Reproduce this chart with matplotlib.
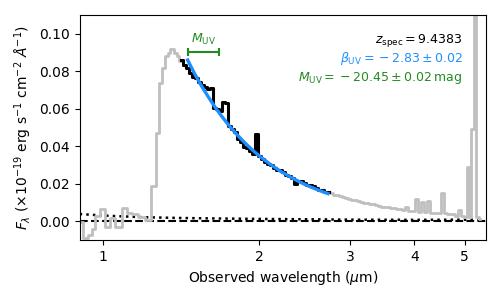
import numpy as np
import matplotlib
matplotlib.use("Agg")
import matplotlib.pyplot as plt
from matplotlib.ticker import NullLocator, FixedLocator, FixedFormatter

# observed-frame prism spectrum (micron, 1e-19 erg/s/cm2/A)
wave = [0.9045, 0.9250, 0.9437, 0.9563, 0.9736, 0.9955, 1.0203, 1.0410, 1.0692,
        1.1007, 1.1205, 1.1509, 1.1874, 1.2224, 1.2555, 1.2753, 1.2925, 1.3099,
        1.3246, 1.3393, 1.3576, 1.3789, 1.3944, 1.4050,
        1.4164, 1.4355, 1.4548, 1.4744, 1.4943, 1.5144, 1.5348, 1.5555, 1.5765,
        1.5977, 1.6192, 1.6410, 1.6631, 1.6855, 1.7082, 1.7312, 1.7546, 1.7782,
        1.8022, 1.8264, 1.8510, 1.8760, 1.9012, 1.9268, 1.9528, 1.9791, 2.0057,
        2.0328, 2.0602, 2.0879, 2.1160, 2.1445, 2.1734, 2.2027, 2.2324, 2.2624,
        2.2929, 2.3238, 2.3551, 2.3868, 2.4190, 2.4516, 2.4846, 2.5181, 2.5520,
        2.5864, 2.6212, 2.6565, 2.6923, 2.7286,
        2.7654, 2.8026, 2.8404, 2.8786, 2.9174, 2.9567, 2.9965, 3.0369, 3.0778,
        3.1192, 3.1612, 3.2038, 3.2469, 3.2907, 3.3350, 3.3799, 3.4254, 3.4716,
        3.5183, 3.5657, 3.6137, 3.6624, 3.7117, 3.7617, 3.8124, 3.8637, 3.9158,
        3.9882, 4.0419, 4.0964, 4.1424, 4.1982, 4.2642, 4.3218, 4.3996, 4.4788,
        4.5291, 4.5798, 4.6623, 4.7463, 4.8318, 4.8969, 4.9629, 5.0298, 5.0749,
        5.1204, 5.1732, 5.2359, 5.2947, 5.3540]
flux = [-0.0005, -0.0090, -0.0075, -0.0040, 0.0030, 0.0064, -0.0030, 0.0016, -0.0030,
        0.0070, 0.0043, 0.0037, 0.0020, 0.0005, 0.0190, 0.0470, 0.0740, 0.0820,
        0.0880, 0.0900, 0.0920, 0.0900, 0.0880, 0.0855,
        0.0860, 0.0835, 0.0815, 0.0790, 0.0770, 0.0765, 0.0745, 0.0725, 0.0715,
        0.0705, 0.0710, 0.0605, 0.0600, 0.0590, 0.0635, 0.0630, 0.0510, 0.0490,
        0.0475, 0.0440, 0.0425, 0.0395, 0.0390, 0.0375, 0.0360, 0.0465, 0.0350,
        0.0330, 0.0315, 0.0305, 0.0300, 0.0285, 0.0275, 0.0272, 0.0262, 0.0245,
        0.0240, 0.0228, 0.0200, 0.0215, 0.0212, 0.0205, 0.0195, 0.0192, 0.0185,
        0.0175, 0.0168, 0.0165, 0.0158, 0.0155,
        0.0152, 0.0142, 0.0140, 0.0132, 0.0130, 0.0124, 0.0120, 0.0112, 0.0113,
        0.0105, 0.0104, 0.0098, 0.0096, 0.0092, 0.0090, 0.0084, 0.0083, 0.0078,
        0.0076, 0.0073, 0.0071, 0.0068, 0.0067, 0.0063, 0.0061, 0.0075, 0.0056,
        0.0052, 0.0120, 0.0050, 0.0100, 0.0048, 0.0110, 0.0046, 0.0046, 0.0043,
        0.0150, 0.0042, 0.0040, 0.0038, 0.0030, 0.0057, 0.0025, 0.0022, 0.0290,
        0.0020, 0.0490, 0.3000, 0.0020, 0.0010]

# 1-sigma uncertainty (dotted)
err_wave = [0.90, 1.00, 1.10, 1.20, 1.40, 1.70, 2.00, 2.50, 3.00, 4.00, 5.30]
err_flux = [0.0038, 0.0030, 0.0025, 0.0021, 0.0017, 0.0014, 0.0012, 0.0010, 0.0008, 0.0007, 0.0008]

# UV slope fit (blue)
fit_wave = [1.456, 1.50, 1.55, 1.60, 1.65, 1.70, 1.75, 1.80, 1.85, 1.90, 1.95,
            2.00, 2.10, 2.20, 2.30, 2.40, 2.50, 2.60, 2.72]
fit_flux = [0.0860, 0.0790, 0.0720, 0.0659, 0.0603, 0.0555, 0.0511, 0.0472, 0.0437,
            0.0405, 0.0376, 0.0350, 0.0305, 0.0267, 0.0236, 0.0209, 0.0186, 0.0167, 0.0147]

fit_range = (1.41, 2.73)
muv_range = (1.456, 1.671)
muv_level = 0.0905

z_spec = "9.4383"
beta, beta_err = "2.83", "0.02"
muv, muv_err = "20.45", "0.02"

blue = "#1f8fff"
green = "forestgreen"

wave = np.array(wave)
flux = np.array(flux)
sel = (wave >= fit_range[0]) & (wave <= fit_range[1])

fig = plt.figure(figsize=(5.01, 3.01), dpi=100)
ax = fig.add_axes([0.159, 0.203, 0.811, 0.747])

ax.axhline(0, color="k", ls="--", lw=1.5, zorder=1)
ax.plot(err_wave, err_flux, color="k", ls=":", lw=1.8, zorder=1)
ax.plot(wave, flux, color="0.75", lw=2, drawstyle="steps-mid", zorder=2)
ax.plot(wave[sel], flux[sel], color="k", lw=2.2, drawstyle="steps-mid", zorder=3)
ax.plot(fit_wave, fit_flux, color=blue, lw=2.4, zorder=4)

# M_UV window
cen = np.sqrt(muv_range[0] * muv_range[1])
ax.errorbar([cen], [muv_level], xerr=[[cen - muv_range[0]], [muv_range[1] - cen]],
            fmt="none", ecolor=green, elinewidth=1.5, capsize=3, capthick=1.5, zorder=5)
ax.text(cen, 0.0950, r"$M_{\rm UV}$", color=green, fontsize=9,
        ha="center", va="baseline")

ax.text(0.943, 0.877, r"$z_{\rm spec} = %s$" % z_spec, transform=ax.transAxes,
        ha="right", va="baseline", fontsize=9, color="k")
ax.text(0.943, 0.792, r"$\beta_{\rm UV} = \:-\: %s \pm %s$" % (beta, beta_err),
        transform=ax.transAxes, ha="right", va="baseline", fontsize=9, color=blue)
ax.text(0.943, 0.707, r"$M_{\rm UV} = \:-\: %s \pm %s\,{\rm mag}$" % (muv, muv_err),
        transform=ax.transAxes, ha="right", va="baseline", fontsize=9, color=green)

ax.set_xscale("log")
ax.set_xlim(0.9, 5.5)
ax.set_ylim(-0.01, 0.11)
ax.xaxis.set_major_locator(FixedLocator([1, 2, 3, 4, 5]))
ax.xaxis.set_major_formatter(FixedFormatter(["1", "2", "3", "4", "5"]))
ax.xaxis.set_minor_locator(NullLocator())
ax.set_yticks([0.0, 0.02, 0.04, 0.06, 0.08, 0.10])
ax.set_yticklabels(["0.00", "0.02", "0.04", "0.06", "0.08", "0.10"])

ax.set_xlabel(r"Observed wavelength ($\mu$m)")
ax.set_ylabel(r"$F_\lambda$ ($\times 10^{-19}$ erg s$^{-1}$ cm$^{-2}$ $\AA^{-1}$)")

fig.savefig("out.png", dpi=100)
